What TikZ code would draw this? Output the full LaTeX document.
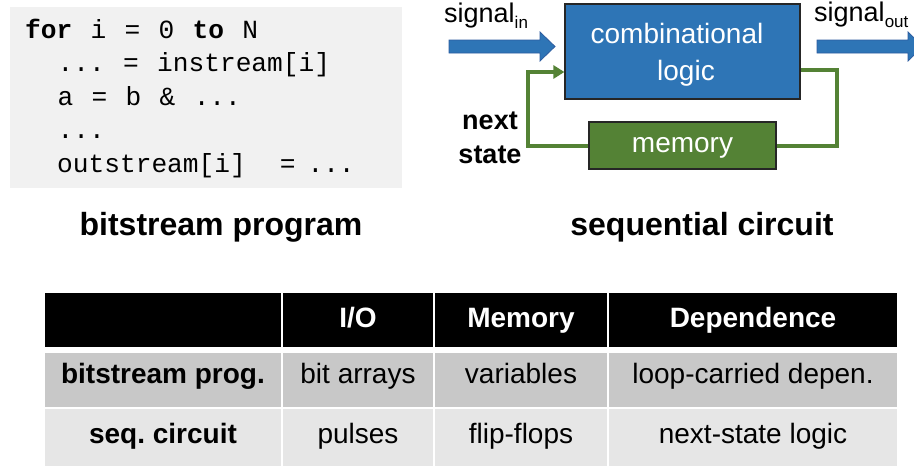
\documentclass[tikz,border=0pt]{standalone}
\usepackage{fontspec}
\setmainfont{Liberation Sans}
\newfontfamily\codefont{Liberation Mono}
\usetikzlibrary{arrows.meta}

\definecolor{combblue}{RGB}{46,117,182}
\definecolor{arrowblue}{RGB}{44,92,160}
\definecolor{memgreen}{RGB}{84,130,53}
\definecolor{codebg}{RGB}{241,241,241}
\definecolor{rowdark}{RGB}{200,200,200}
\definecolor{rowlight}{RGB}{230,230,230}

% gap between tokens of the listing
\newcommand{\tok}{\hspace{18.3pt}}

\tikzset{
  codeline/.style={anchor=base west, inner sep=0, font=\codefont\fontsize{26.2}{33}\selectfont},
  blocktext/.style={anchor=base, inner sep=0, text=white, font=\fontsize{28}{35}\selectfont},
  plainlabel/.style={anchor=base west, inner sep=0, font=\fontsize{27}{33}\selectfont},
  boldlabel/.style={anchor=base, inner sep=0, font=\bfseries\fontsize{27}{33}\selectfont},
  caption/.style={anchor=base, inner sep=0, font=\bfseries\fontsize{32}{38}\selectfont},
  blockarrow/.style={fill=combblue, draw=arrowblue, line width=0.8pt},
  feedback/.style={draw=memgreen, line width=4pt},
  cell/.style={inner sep=0, outer sep=0, draw=none, font=\fontsize{28}{32}\selectfont},
  headcell/.style={cell, fill=black, text=white, font=\bfseries\fontsize{28}{32}\selectfont,
                   minimum height=54, text height=20, text depth=6},
  darkcell/.style={cell, fill=rowdark, minimum height=54, text height=16, text depth=10},
  lightcell/.style={cell, fill=rowlight, minimum height=57, text height=18, text depth=7},
  rowhead/.style={font=\bfseries\fontsize{28}{32}\selectfont},
  colA/.style={minimum width=236},
  colB/.style={minimum width=150},
  colC/.style={minimum width=172},
  colD/.style={minimum width=288},
}

\begin{document}
\frenchspacing
\begin{tikzpicture}[x=1pt,y=-1pt]
\useasboundingbox (0,0) rectangle (914,466);
\clip (0,0) rectangle (914,466);

% ---------- bitstream program ----------
\node (codebox) [fill=codebg, inner sep=0, minimum width=392, minimum height=181, anchor=north west] at (10,7) {};
\node (c1) [codeline] at (25,38)    {\textbf{for}\tok i\tok =\tok 0\tok \textbf{to}\tok N};
\node (c2) [codeline] at (57.5,71.5)  {...\tok =\tok instream[i]};
\node (c3) [codeline] at (57.5,105)   {a\tok =\tok b\tok \&\tok ...};
\node (c4) [codeline] at (57.5,138.5) {...};
\node (c5) [codeline] at (57,172)   {outstream[i]\hspace{34pt}=\hspace{12pt}...};
\node (cap1) [caption] at (221,235) {bitstream program};

% ---------- sequential circuit ----------
\node (comb) [fill=combblue, draw=black!85, line width=1.2pt, inner sep=0,
              minimum width=235, minimum height=95] at (682.5,51.5) {};
\node (combA) [blocktext] at (677,43) {combinational};
\node (combB) [blocktext] at (686,80) {logic};

\node (mem) [fill=memgreen, draw=black!85, line width=1.2pt, inner sep=0,
             minimum width=187, minimum height=47, text=white,
             text height=19, text depth=6,
             font=\fontsize{28}{35}\selectfont] at (682.5,145.5) {memory};

% input and output signal arrows
\coordinate (inTail)  at (449,46.5);
\coordinate (outTail) at (817,46.5);
\draw[blockarrow] (inTail) ++(0,-6.5) -- ++(91,0) -- ++(0,-8) -- ++(15,14.5)
      -- ++(-15,14.5) -- ++(0,-8) -- ++(-91,0) -- cycle;
\draw[blockarrow] (outTail) ++(0,-6.5) -- ++(91,0) -- ++(0,-8) -- ++(15,14.5)
      -- ++(-15,14.5) -- ++(0,-8) -- ++(-91,0) -- cycle;

\node (sigin) [plainlabel] at (444,22)
  {signal{\fontsize{17}{17}\selectfont\raisebox{-6pt}{in}}};
\node (sigout) [plainlabel] at (814,21)
  {signal{\fontsize{17}{17}\selectfont\raisebox{-6pt}{out}}};

% feedback loop through the memory
\draw[feedback] (comb.east |- {(0,70)}) -| (837,145.5) -- (mem.east);
\draw[feedback, -{Triangle[length=11pt,width=13pt]}]
  (mem.west) -| (528,72) -- (comb.west |- {(0,72)});

\node (nxt) [boldlabel] at (490,129) {next};
\node (st)  [boldlabel] at (490,163) {state};
\node (cap2) [caption] at (702,235) {sequential circuit};

% ---------- comparison table ----------
% header row
\node (h1) [headcell, colA] at (163,320) {};
\node (h2) [headcell, colB] at (358,320) {I/O};
\node (h3) [headcell, colC] at (521,320) {Memory};
\node (h4) [headcell, colD] at (753,320) {Dependence};
% bitstream program row
\node (a1) [darkcell, colA, rowhead] at (163,380) {bitstream prog.};
\node (a2) [darkcell, colB] at (358,380) {bit arrays};
\node (a3) [darkcell, colC] at (521,380) {variables};
\node (a4) [darkcell, colD] at (753,380) {loop-carried depen.};
% sequential circuit row
\node (b1) [lightcell, colA, rowhead] at (163,437.5) {seq. circuit};
\node (b2) [lightcell, colB] at (358,437.5) {pulses};
\node (b3) [lightcell, colC] at (521,437.5) {flip-flops};
\node (b4) [lightcell, colD] at (753,437.5) {next-state logic};
\end{tikzpicture}
\end{document}
